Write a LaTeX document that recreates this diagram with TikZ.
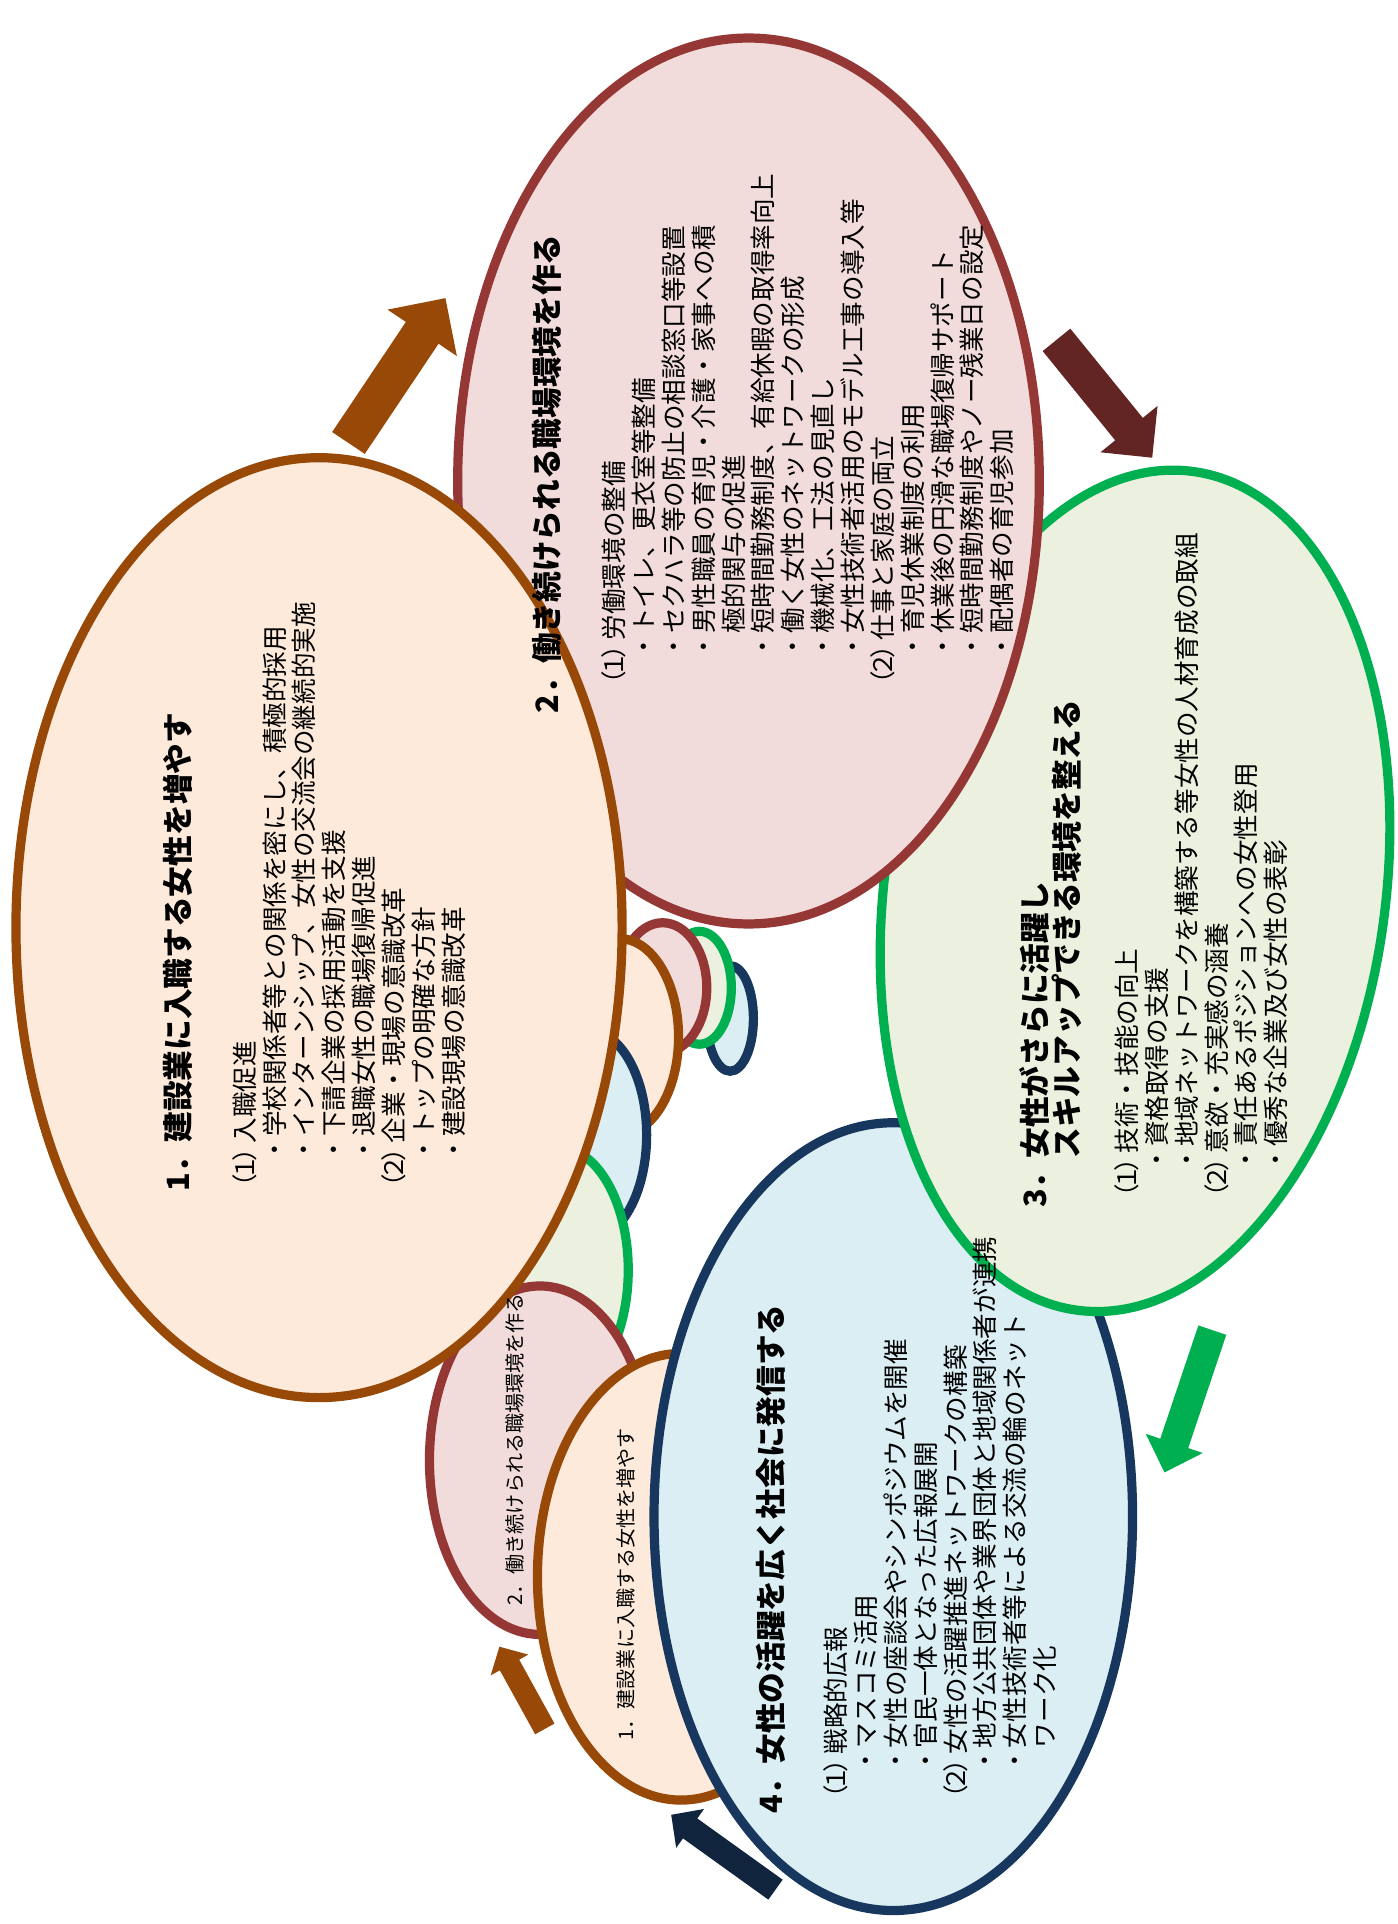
\documentclass[tikz,border=0pt]{standalone}
\usepackage{fontspec}
\newfontfamily\jp{Noto Sans CJK JP}
\usetikzlibrary{calc}
\definecolor{peachfill}{HTML}{FDEADA}
\definecolor{peachline}{HTML}{984807}
\definecolor{pinkfill}{HTML}{F2DCDB}
\definecolor{pinkline}{HTML}{953735}
\definecolor{greenfill}{HTML}{EBF1DE}
\definecolor{greenline}{HTML}{00B050}
\definecolor{bluefill}{HTML}{DAEEF3}
\definecolor{blueline}{HTML}{17375E}
\definecolor{arrowred}{HTML}{632523}
\definecolor{arrownavy}{HTML}{10243E}
% (1) with narrow brackets
\newcommand\kakko[1]{\hbox{\kern-.45em（\kern-.25em#1\kern-.25em）\kern-.3em}}
% block arrow: colour, tail, tip, half shaft, half head, head length
\def\blockarrow[#1](#2)(#3)(#4:#5:#6){%
  \coordinate (ab) at ($(#3)!#6!(#2)$);
  \fill[#1] ($(#2)!#4!90:(#3)$) -- ($(ab)!#4!90:(#3)$) -- ($(ab)!#5!90:(#3)$) -- (#3)
    -- ($(ab)!#5!-90:(#3)$) -- ($(ab)!#4!-90:(#3)$) -- ($(#2)!#4!-90:(#3)$) -- cycle;}
\tikzset{
  peachring/.style={draw=peachline, fill=peachfill},
  pinkring/.style={draw=pinkline, fill=pinkfill},
  greenring/.style={draw=greenline, fill=greenfill},
  bluering/.style={draw=blueline, fill=bluefill},
  headtext/.style={rotate=90, anchor=west, inner sep=0pt, align=left,
    font=\jp\bfseries\fontsize{15}{15.6}\selectfont},
  listtext/.style={rotate=90, anchor=north west, inner sep=0pt, align=left,
    font=\jp\fontsize{12.5}{14.6}\selectfont},
  echotext/.style={rotate=90, anchor=west, inner sep=0pt,
    font=\jp\fontsize{9.8}{11}\selectfont}
}
\begin{document}
\begin{tikzpicture}[x=0.6pt, y=-0.6pt, line width=4.5pt]
			%%%%% START %%%%%
			\useasboundingbox (0, 0) rectangle (1139, 1568);
			
			% smaller and smaller copies, back to front
			\draw[bluering] (595, 830) ellipse [x radius=19, y radius=43];
			\draw[greenring] (570, 805) ellipse [x radius=26, y radius=46];
			\draw[pinkring] (540, 805) ellipse [x radius=36, y radius=53];
			\draw[peachring] (505, 845) ellipse [x radius=48, y radius=80];
			\draw[bluering] (480, 925) ellipse [x radius=47, y radius=85];
			\draw[greenring] (455, 1035) ellipse [x radius=57, y radius=100];
			\draw[pinkring] (440, 1190) ellipse [x radius=90, y radius=142];
			\draw[peachring] (555, 1285) ellipse [x radius=117, y radius=182];
			
			% the four big ones
			\draw[bluering] (728, 1236) ellipse [x radius=195, y radius=321];
			\draw[greenring, rotate around={-8:(925, 726)}] (925, 726) ellipse [x radius=204, y radius=345];
			\draw[pinkring] (610, 392) ellipse [x radius=237, y radius=361];
			\draw[peachring] (260, 756) ellipse [x radius=247, y radius=383];
			
			% arrows
			\blockarrow[peachline](284, 361)(363, 243)(9.6pt:20.4pt:20.4pt)
			\blockarrow[arrowred](861, 277)(939, 373)(8.7pt:18pt:18pt)
			\blockarrow[greenline](988, 1084)(949, 1200)(7.2pt:14.7pt:15pt)
			\blockarrow[arrownavy](632, 1540)(547, 1479)(6pt:11.7pt:11.4pt)
			\blockarrow[peachline](444, 1409)(407, 1342)(5.4pt:10.5pt:10.2pt)
			
			% 1
			\node[headtext] (head1) at (145, 975) {1．建設業に入職する女性を増やす};
			\node[listtext] (list1) at (185.6, 972) {\kakko{１}入職促進\\
				　・学校関係者等との関係を密にし、積極的採用\\
				　・インターンシップ、女性の交流会の継続的実施\\
				　・下請企業の採用活動を支援\\
				　・退職女性の職場復帰促進\\
				\kakko{２}企業・現場の意識改革\\
				　・トップの明確な方針\\
				　・建設現場の意識改革};
			
			% 2
			\node[headtext] (head2) at (446, 585) {2．働き続けられる職場環境を作る};
			\node[listtext] (list2) at (486.6, 562) {\kakko{１}労働環境の整備\\
				　・トイレ、更衣室等整備\\
				　・セクハラ等の防止の相談窓口等設置\\
				　・男性職員の育児・介護・家事への積\\
				　　極的関与の促進\\
				　・短時間勤務制度、有給休暇の取得率向上\\
				　・働く女性のネットワークの形成\\
				　・機械化、工法の見直し\\
				　・女性技術者活用のモデル工事の導入等\\
				\kakko{２}仕事と家庭の両立\\
				　・育児休業制度の利用\\
				　・休業後の円滑な職場復帰サポート\\
				　・短時間勤務制度やノー残業日の設定\\
				　・配偶者の育児参加};
			
			% 3
			\node[headtext, anchor=north west] (head3) at (827.5, 988) {3．女性がさらに活躍し\\
				\phantom{3．}スキルアップできる環境を整える};
			\node[listtext] (list3) at (904.6, 980) {\kakko{１}技術・技能の向上\\
				　・資格取得の支援\\
				　・地域ネットワークを構築する等女性の人材育成の取組\\
				\kakko{２}意欲・充実感の涵養\\
				　・責任あるポジションへの女性登用\\
				　・優秀な企業及び女性の表彰};
			
			% 4
			\node[headtext] (head4) at (628, 1482) {4．女性の活躍を広く社会に発信する};
			\node[listtext] (list4) at (667.6, 1470) {\kakko{１}戦略的広報\\
				　・マスコミ活用\\
				　・女性の座談会やシンポジウムを開催\\
				　・官民一体となった広報展開\\
				\kakko{２}女性の活躍推進ネットワークの構築\\
				　・地方公共団体や業界団体と地域関係者が連携\\
				　・女性技術者等による交流の輪のネット\\
				　　ワーク化};
			
			% echoes
			\node[echotext] (echo1) at (510, 1422) {1．建設業に入職する女性を増やす};
			\node[echotext] (echo2) at (420, 1312) {2．働き続けられる職場環境を作る};
			
			%%%%% END %%%%%
\end{tikzpicture}
\end{document}
